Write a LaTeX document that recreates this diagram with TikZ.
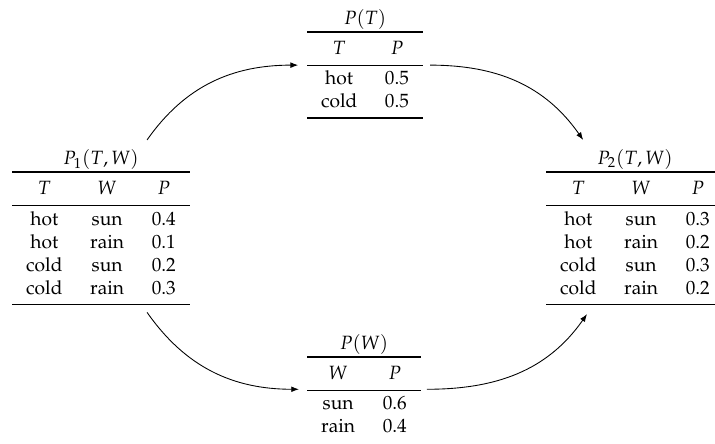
\documentclass[tikz,border=0pt]{standalone}
\usepackage[T1]{fontenc}
\usepackage{mathpazo}
\usepackage{booktabs}
\usetikzlibrary{arrows.meta}
\setlength{\tabcolsep}{7.2pt}

\begin{document}
\begin{tikzpicture}[
    tbl/.style={inner sep=0pt, anchor=north},
    flow/.style={line width=0.016cm, -{Latex[length=4pt,width=3pt]}}]
                        \useasboundingbox (0.000000,0.000000) rectangle (13.088100,8.127420);

                        % Marking table P_1(T,W)
                        \node (ptw1) [tbl] at (1.848810,5.418280) {%
                          \begin{tabular}{ccc}
                            \multicolumn{3}{c}{$P_1(T,W)$}\\
                            \toprule\addlinespace[3pt]
                            $T$ & $W$ & $P$\\
                            \midrule\addlinespace[1.5pt]
                            hot & sun & 0.4\\
                            hot & rain & 0.1\\
                            cold & sun & 0.2\\
                            cold & rain & 0.3\\
                            \addlinespace[1.3pt]\bottomrule
                          \end{tabular}};

                        % Marking table P(T)
                        \node (pt) [tbl] at (6.681330,7.982810) {%
                          \begin{tabular}{cc}
                            \multicolumn{2}{c}{$P(T)$}\\
                            \toprule\addlinespace[3pt]
                            $T$ & $P$\\
                            \midrule\addlinespace[1.5pt]
                            hot & 0.5\\
                            cold & 0.5\\
                            \addlinespace[1.3pt]\bottomrule
                          \end{tabular}};

                        % Marking table P(W)
                        \node (pw) [tbl] at (6.663020,2.033690) {%
                          \begin{tabular}{cc}
                            \multicolumn{2}{c}{$P(W)$}\\
                            \toprule\addlinespace[3pt]
                            $W$ & $P$\\
                            \midrule\addlinespace[1.5pt]
                            sun & 0.6\\
                            rain & 0.4
                          \end{tabular}};

                        % Marking table P_2(T,W)
                        \node (ptw2) [tbl] at (11.623680,5.418280) {%
                          \begin{tabular}{ccc}
                            \multicolumn{3}{c}{$P_2(T,W)$}\\
                            \toprule\addlinespace[3pt]
                            $T$ & $W$ & $P$\\
                            \midrule\addlinespace[1.5pt]
                            hot & sun & 0.3\\
                            hot & rain & 0.2\\
                            cold & sun & 0.3\\
                            cold & rain & 0.2\\
                            \addlinespace[1.3pt]\bottomrule
                          \end{tabular}};

                        % Drawing arrow P_1 -> P(T)
                        \draw [flow] ([xshift=24pt,yshift=4.2pt]ptw1.north) to[out=55,in=180] ([xshift=-4.5pt,yshift=-0.8pt]pt.west);%

                        % Drawing arrow P(T) -> P_2
                        \draw [flow] ([xshift=3.6pt,yshift=-0.8pt]pt.east) to[out=0,in=125] ([xshift=-27pt,yshift=4.2pt]ptw2.north);%

                        % Drawing arrow P_1 -> P(W)
                        \draw [flow] ([xshift=24pt,yshift=-3.6pt]ptw1.south) to[out=-55,in=180] ([xshift=-4.2pt,yshift=-1.4pt]pw.west);%

                        % Drawing arrow P(W) -> P_2
                        \draw [flow] ([xshift=3.1pt,yshift=-1.4pt]pw.east) to[out=0,in=-125] ([xshift=-25pt,yshift=-4.5pt]ptw2.south);%
\end{tikzpicture}
\end{document}
